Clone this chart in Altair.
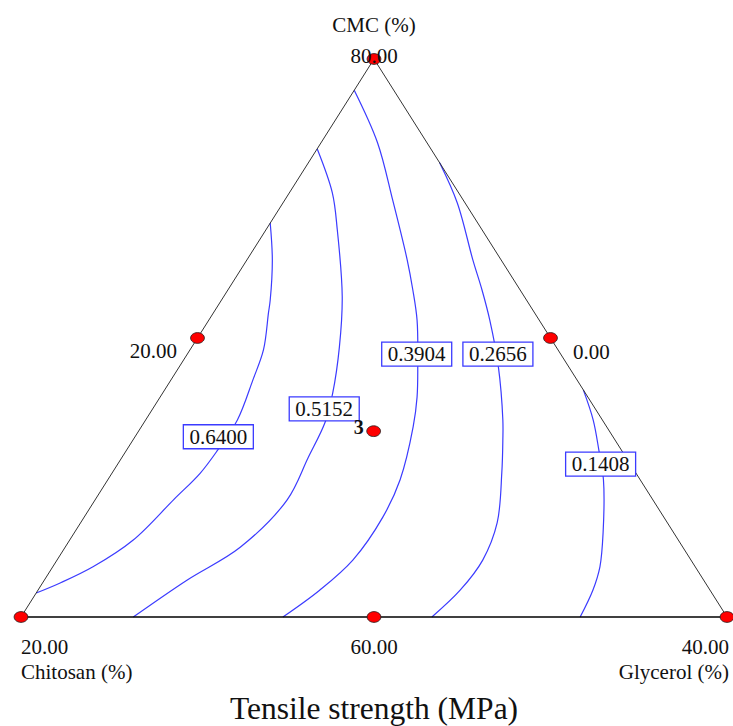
import altair as alt
import pandas as pd

# Tensile strength contour levels (MPa)
levels = [0.6400, 0.5152, 0.3904, 0.2656, 0.1408]

# Each contour traced as pseudo-component pairs: CMC fraction and glycerol fraction
cmc_0640 = [0.706, 0.640, 0.568, 0.545, 0.479, 0.425, 0.353, 0.299, 0.258, 0.210, 0.138, 0.090, 0.061, 0.043]
gly_0640 = [0.000, 0.036, 0.069, 0.078, 0.104, 0.116, 0.130, 0.129, 0.125, 0.111, 0.090, 0.057, 0.025, 0.000]

cmc_0515 = [0.839, 0.760, 0.694, 0.574, 0.484, 0.401, 0.350, 0.285, 0.210, 0.125, 0.066, 0.000]
gly_0515 = [0.000, 0.061, 0.101, 0.168, 0.209, 0.241, 0.256, 0.264, 0.272, 0.248, 0.202, 0.159]

cmc_0390 = [0.944, 0.850, 0.747, 0.640, 0.586, 0.532, 0.450, 0.394, 0.341, 0.246, 0.179, 0.102, 0.048, 0.000]
gly_0390 = [0.000, 0.080, 0.153, 0.227, 0.262, 0.295, 0.337, 0.364, 0.385, 0.414, 0.423, 0.419, 0.399, 0.371]

cmc_0266 = [0.814, 0.742, 0.640, 0.586, 0.532, 0.450, 0.353, 0.317, 0.258, 0.169, 0.102, 0.048, 0.000]
gly_0266 = [0.186, 0.247, 0.320, 0.360, 0.398, 0.451, 0.506, 0.524, 0.552, 0.590, 0.603, 0.598, 0.582]

cmc_0141 = [0.407, 0.353, 0.299, 0.246, 0.151, 0.090, 0.048, 0.000]
gly_0141 = [0.593, 0.634, 0.669, 0.702, 0.749, 0.775, 0.786, 0.792]

contour_cmc = [cmc_0640, cmc_0515, cmc_0390, cmc_0266, cmc_0141]
contour_gly = [gly_0640, gly_0515, gly_0390, gly_0266, gly_0141]

# Where each level's label box sits on its contour
label_cmc = [0.323, 0.373, 0.471, 0.471, 0.274]
label_gly = [0.118, 0.243, 0.325, 0.440, 0.684]

# Design points (CMC, glycerol); the centroid was run in triplicate
design_cmc = [1.0, 0.5, 0.0, 0.0, 0.0, 0.5, 0.333]
design_gly = [0.0, 0.0, 0.0, 0.5, 1.0, 0.5, 0.333]
centroid_reps = "3"

# Vertex / edge annotations
top_title = "CMC (%)"
top_value = "80.00"
left_mid_value = "20.00"
right_mid_value = "0.00"
bl_value, bl_name = "20.00", "Chitosan (%)"
bottom_mid_value = "60.00"
br_value, br_name = "40.00", "Glycerol (%)"
chart_title = "Tensile strength (MPa)"

BLUE = "#3b3bff"
SERIF = "Liberation Serif"


def tern_x(cmc, gly):
    return [g + c / 2 for c, g in zip(cmc, gly)]


xs = alt.Scale(domain=[0, 1], nice=False, zero=False)
ys = alt.Scale(domain=[0, 1], nice=False, zero=False)
X = lambda f="x": alt.X(f"{f}:Q", scale=xs, axis=None)
Y = lambda f="y": alt.Y(f"{f}:Q", scale=ys, axis=None)

# Contour table
rows = []
for lev, cc, gg in zip(levels, contour_cmc, contour_gly):
    for i, (x, y) in enumerate(zip(tern_x(cc, gg), cc)):
        rows.append({"level": f"{lev:.4f}", "i": i, "x": x, "y": y})
contours = pd.DataFrame(rows)

labels = pd.DataFrame({
    "x": tern_x(label_cmc, label_gly),
    "y": label_cmc,
    "text": [f"{v:.4f}" for v in levels],
})

design = pd.DataFrame({"x": tern_x(design_cmc, design_gly), "y": design_cmc})

# Triangle outline: two slanted sides and the base
sides = pd.DataFrame({"i": [0, 1, 2], "x": tern_x([0, 1, 0], [0, 0, 1]), "y": [0, 1, 0]})
base = pd.DataFrame({"i": [0, 1], "x": tern_x([0, 0], [0, 1]), "y": [0, 0]})

side_lines = alt.Chart(sides).mark_line(color="#333333", strokeWidth=1).encode(
    x=X(), y=Y(), order="i:Q")
base_line = alt.Chart(base).mark_line(color="#000000", strokeWidth=1.6).encode(
    x=X(), y=Y(), order="i:Q")

contour_lines = alt.Chart(contours).mark_line(
    color=BLUE, strokeWidth=1.2, interpolate="catmull-rom"
).encode(x=X(), y=Y(), detail="level:N", order="i:Q")

boxes = alt.Chart(labels).mark_rect(
    width=70, height=24, fill="white", stroke=BLUE, strokeWidth=1.3
).encode(x=X(), y=Y())
box_text = alt.Chart(labels).mark_text(
    font=SERIF, fontSize=21, color="#111111", baseline="middle", dy=1
).encode(x=X(), y=Y(), text="text:N")

ellipse = "M -1 0 A 1 0.78 0 1 1 1 0 A 1 0.78 0 1 1 -1 0 Z"
points = alt.Chart(design).mark_point(
    shape=ellipse, size=190, filled=True, fill="#ff0000", stroke="#222222",
    strokeWidth=0.8, opacity=1
).encode(x=X(), y=Y())

reps = alt.Chart(pd.DataFrame({"x": tern_x([design_cmc[-1]], [design_gly[-1]]),
                               "y": [design_cmc[-1]], "t": [centroid_reps]})).mark_text(
    font=SERIF, fontSize=20, fontWeight="bold", align="right", baseline="alphabetic",
    dx=-10, dy=3, color="#111111"
).encode(x=X(), y=Y(), text="t:N")


def text_layer(xv, yv, txt, align, size=21):
    df = pd.DataFrame({"x": xv, "y": yv, "t": txt})
    return alt.Chart(df).mark_text(
        font=SERIF, fontSize=size, align=align, baseline="alphabetic", color="#111111"
    ).encode(x=X(), y=Y(), text="t:N")


center_txt = text_layer(
    [0.5, 0.5, 0.5],
    [1.0484, 0.9928, -0.0663],
    [top_title, top_value, bottom_mid_value],
    "center",
)
left_txt = text_layer([0.0, 0.0], [-0.0663, -0.1111], [bl_value, bl_name], "left")
right_txt = text_layer([1.0028, 1.0028], [-0.0663, -0.1111], [br_value, br_name], "right")
mid_left = text_layer([0.221], [0.4642], [left_mid_value], "right")
mid_right = text_layer([0.7819], [0.4624], [right_mid_value], "left")
title_txt = text_layer([0.5], [-0.1828], [chart_title], "center", size=31.5)

chart = alt.layer(
    contour_lines, side_lines, base_line, boxes, box_text, points, reps,
    center_txt, left_txt, right_txt, mid_left, mid_right, title_txt,
).properties(
    width=706, height=558,
    padding={"left": 21, "top": 59, "right": 6, "bottom": 109},
    autosize=alt.AutoSizeParams(type="none"),
    background="white",
).configure_view(stroke=None)

chart.save("out.html", embed_options={"renderer": "svg", "actions": False})
